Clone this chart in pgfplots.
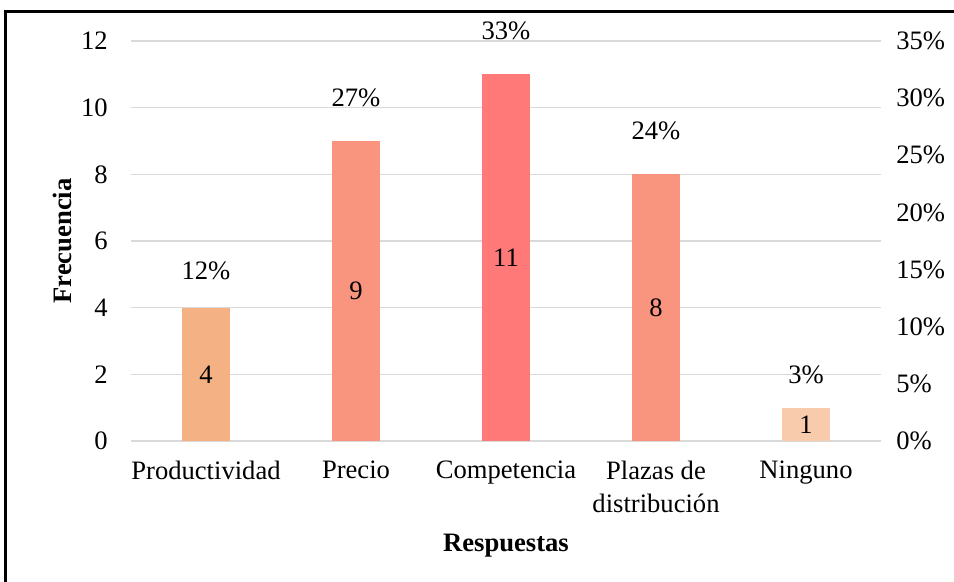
\documentclass[border=0pt]{standalone}
\usepackage{pgfplots}
\pgfplotsset{compat=1.18}
\usepackage{fontspec}
\setmainfont{Liberation Serif}
\definecolor{cprod}{HTML}{F4B183}
\definecolor{cprec}{HTML}{F9957E}
\definecolor{ccomp}{HTML}{FF7979}
\definecolor{cning}{HTML}{F8CBAD}
\definecolor{cgrid}{HTML}{D9D9D9}
\begin{document}
\fontsize{13.3}{16.5}\selectfont
\begin{tikzpicture}
\fill[white] (-65.5pt,-70.5pt) rectangle (411.5pt,220.5pt);
\useasboundingbox (-65.5pt,-70.5pt) rectangle (411.5pt,220.5pt);
\draw[black, line width=1.5pt] (-62.5pt,-90pt) -- (-62.5pt,214.5pt) -- (430pt,214.5pt);
\begin{axis}[
  at={(0pt,0pt)}, anchor=south west,
  scale only axis, width=375pt, height=200pt,
  xmin=-0.5, xmax=4.5, ymin=0, ymax=12,
  xtick={0,1,2,3,4},
  xticklabels={Productividad,Precio,Competencia,{Plazas de\\distribución},Ninguno},
  xticklabel style={align=center, yshift=-5.5pt},
  ytick={0,2,...,12},
  yticklabel style={xshift=-7pt},
  /pgf/number format/assume math mode=true,
  axis line style={draw=none},
  tick style={draw=none},
  ymajorgrids, grid style={cgrid, line width=0.8pt},
  ylabel={\textbf{Frecuencia}},
  xlabel={\textbf{Respuestas}},
  every axis y label/.style={at={(axis description cs:-0.092,0.5)}, rotate=90, anchor=center},
  every axis x label/.style={at={(axis description cs:0.5,-0.262)}, anchor=center},
  clip=false,
]
\addplot[ybar, bar width=24pt, bar shift=0pt, fill=cprod, draw=none] coordinates {(0,4)};
\addplot[ybar, bar width=24pt, bar shift=0pt, fill=cprec, draw=none] coordinates {(1,9)};
\addplot[ybar, bar width=24pt, bar shift=0pt, fill=ccomp, draw=none] coordinates {(2,11)};
\addplot[ybar, bar width=24pt, bar shift=0pt, fill=cprec, draw=none] coordinates {(3,8)};
\addplot[ybar, bar width=24pt, bar shift=0pt, fill=cning, draw=none] coordinates {(4,1)};
% values inside bars
\addplot[draw=none, mark=none, nodes near coords, point meta=explicit symbolic,
  every node near coord/.append style={anchor=center, text=black}]
  coordinates {(0,2)[4] (1,4.5)[9] (2,5.5)[11] (3,4)[8] (4,0.5)[1]};
% percentage labels
\addplot[draw=none, mark=none, nodes near coords, point meta=explicit symbolic,
  every node near coord/.append style={anchor=center, text=black}]
  coordinates {(0,5.1)[12\%] (1,10.3)[27\%] (2,12.3)[33\%] (3,9.3)[24\%] (4,1.98)[3\%]};
\end{axis}
\begin{axis}[
  at={(0pt,0pt)}, anchor=south west,
  scale only axis, width=375pt, height=200pt,
  xmin=-0.5, xmax=4.5, ymin=0, ymax=35,
  axis x line=none, axis y line*=right,
  axis line style={draw=none},
  tick style={draw=none},
  ytick={0,5,...,35},
  yticklabel={\pgfmathprintnumber{\tick}\%},
  /pgf/number format/assume math mode=true,
  yticklabel style={xshift=3pt},
]
\addplot[draw=none] coordinates {(0,0)};
\end{axis}
\end{tikzpicture}
\end{document}
